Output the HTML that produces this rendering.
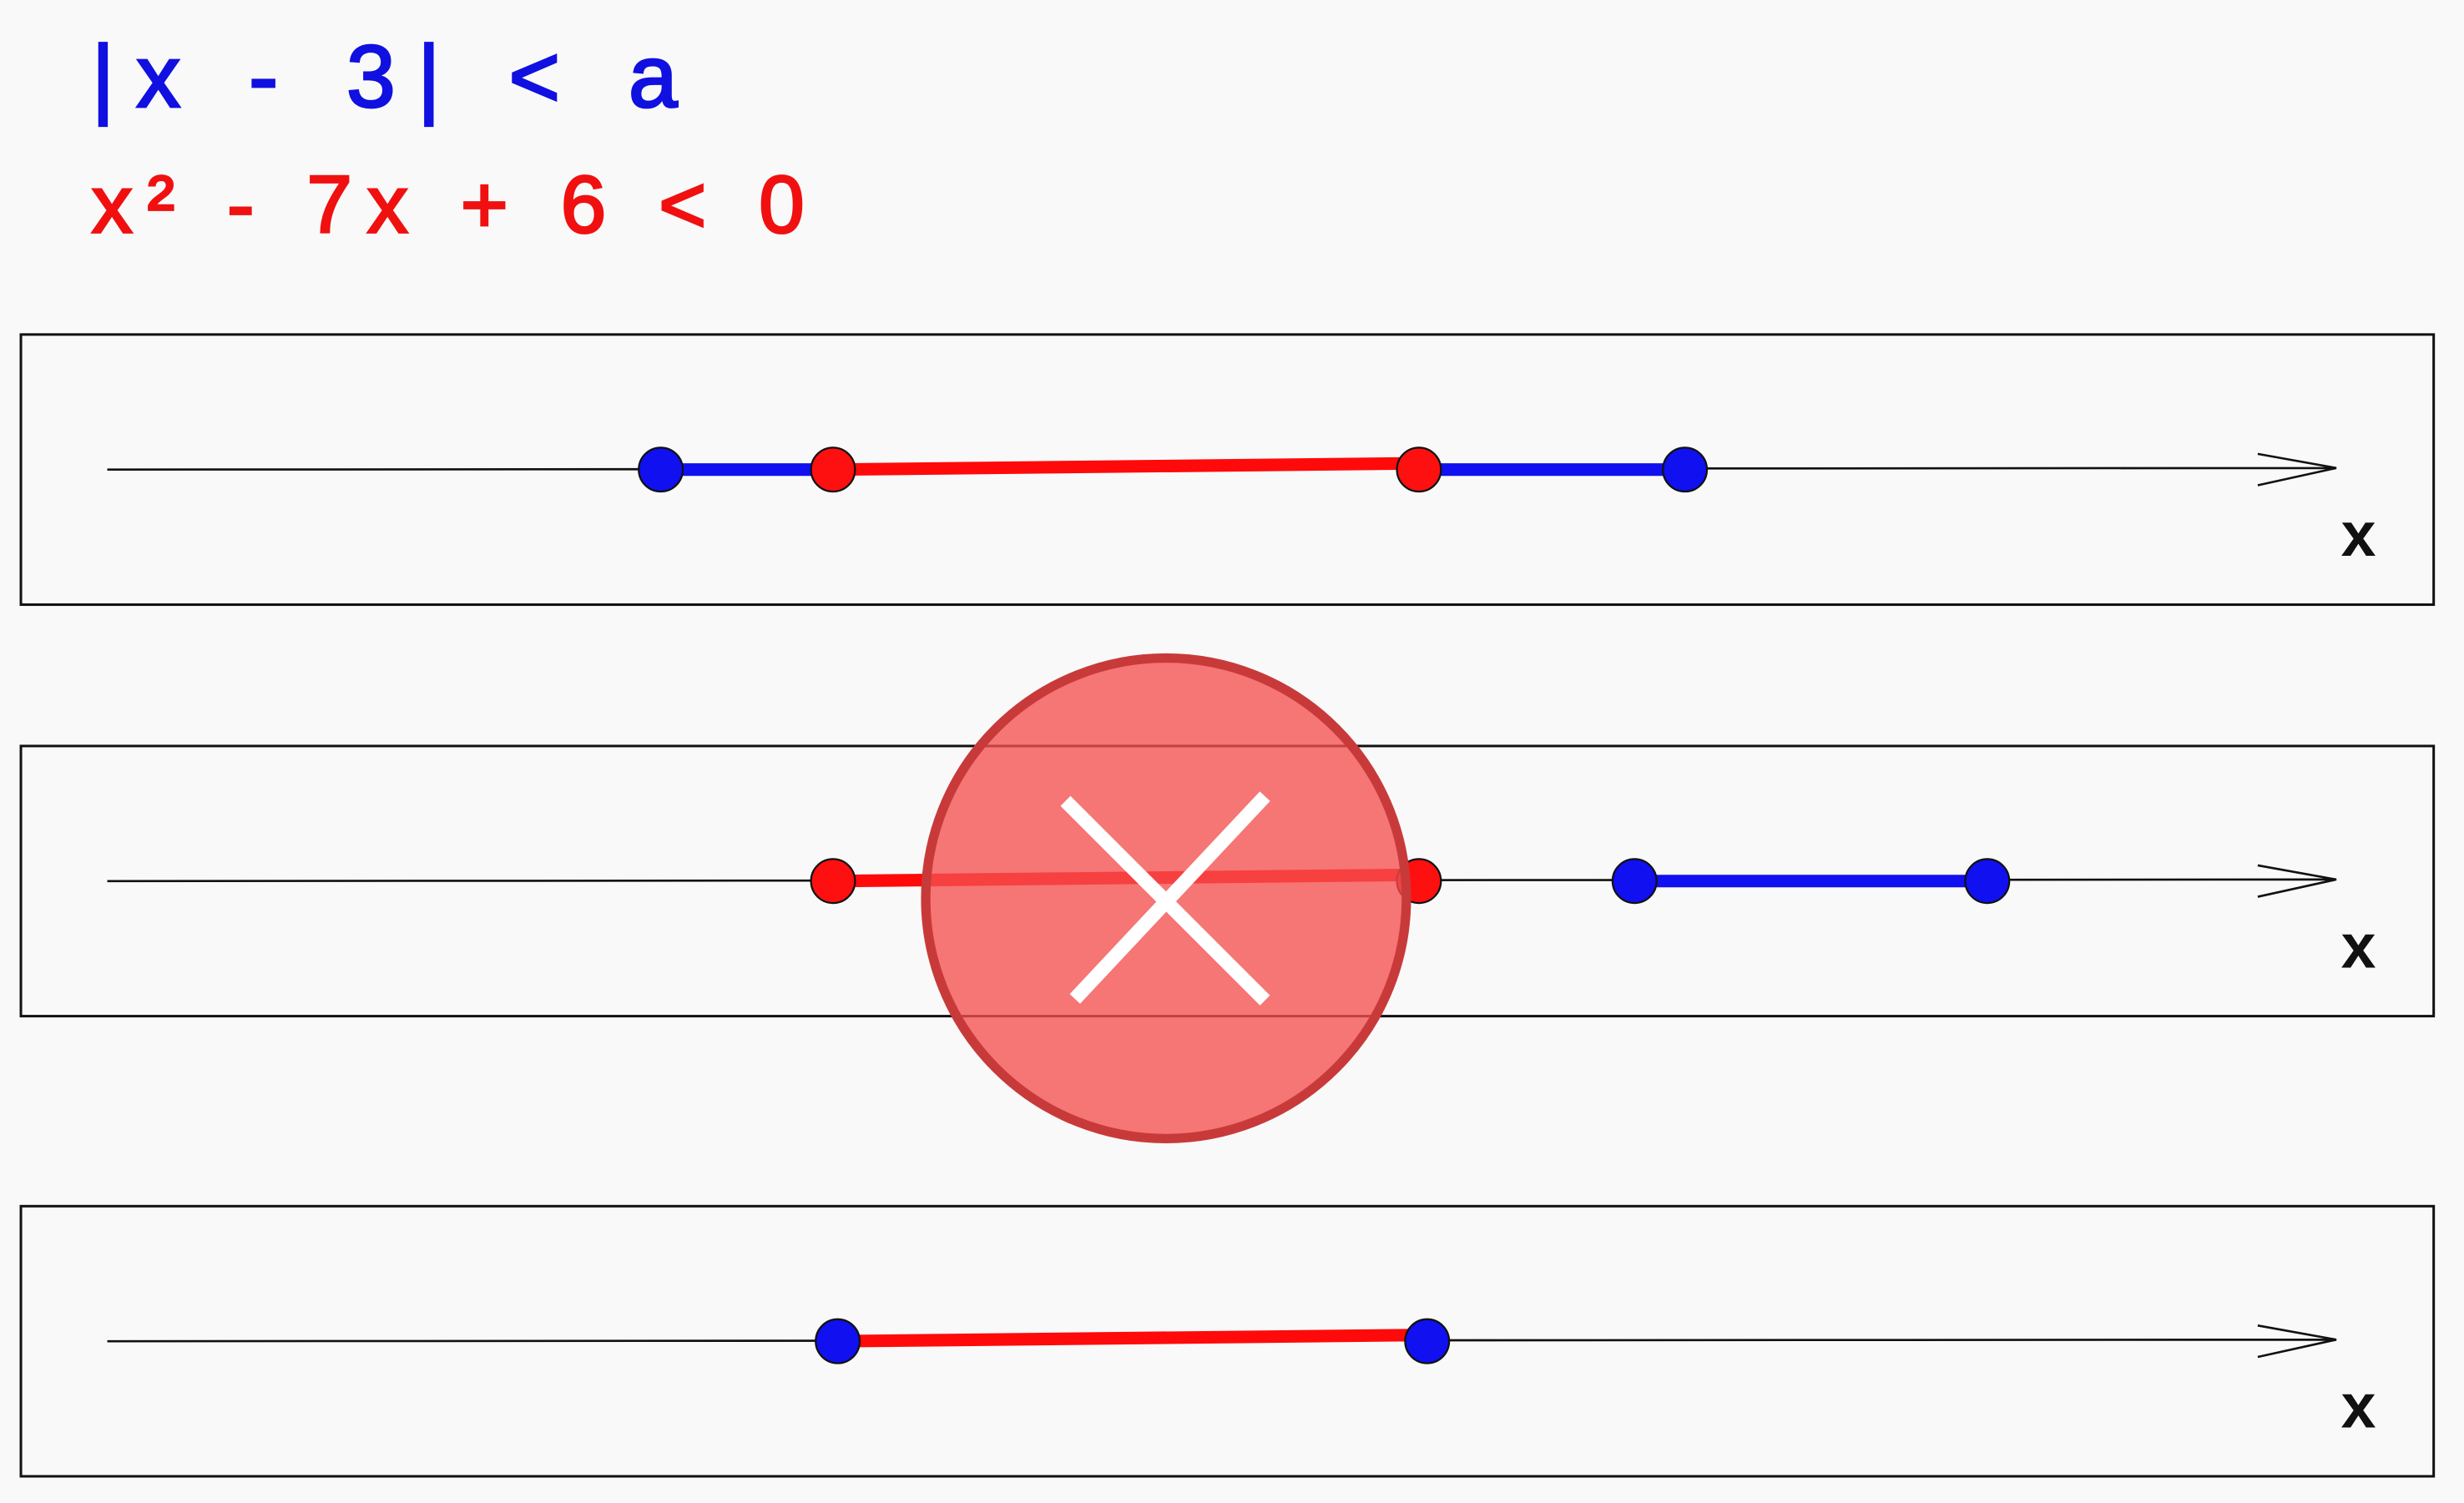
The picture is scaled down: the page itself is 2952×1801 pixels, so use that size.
<!DOCTYPE html>
<html><head><meta charset="utf-8"><style>
html,body{margin:0;padding:0;background:#f9f9f9;}
svg{display:block;}
text{font-family:"Liberation Sans",sans-serif;}
</style></head><body>
<svg width="2952" height="1801" viewBox="0 0 1568 957" xmlns="http://www.w3.org/2000/svg">
<rect width="1568" height="957" fill="#f9f9f9"/>
<text x="58" y="68" font-size="56" fill="#1010e0" stroke="#1010e0" stroke-width="1.5" letter-spacing="14">|x - 3| &lt; a</text>
<text x="58" y="148" font-size="52" fill="#f01010" stroke="#f01010" stroke-width="1.5" letter-spacing="9.5">x² - 7x + 6 &lt; 0</text>
<g id="panels"></g>
</svg>
<script>
const panelTops=[213,475,768];
const redRoots=[1,6];
const bluePanel1=[-0.47,8.27];
const bluePanel2=[7.84,10.85];
const bluePanel3=[1.04,6.07];
const showRedPoints=[true,true,false];
const redInterval=[[1,6],[1,6],[1.04,6.07]];
const blueIntervals=[[[-0.47,1],[6,8.27]],[[7.84,10.85]],[]];
const blues=[bluePanel1,bluePanel2,bluePanel3];
const ns="http://www.w3.org/2000/svg";
const xs=v=>455.4+v*74.6;
const g=document.getElementById('panels');
function mk(tag,attrs,parent){const e=document.createElementNS(ns,tag);for(const k in attrs)e.setAttribute(k,attrs[k]);(parent||g).appendChild(e);return e;}
panelTops.forEach((top,i)=>{
  const p=mk('g',{});
  
  
  const box=mk('rect',{x:13,y:top,width:1536,height:172,fill:'none',stroke:'#111','stroke-width':1.6},p);
  
  
  const ay=top+86;
  const ax=mk('path',{d:`M68 ${ay} L1487 ${ay-1} M1437 ${ay-10} L1487 ${ay-1} L1437 ${ay+10}`,fill:'none',stroke:'#111','stroke-width':1.4},p);
  
  
  const lb=mk('text',{x:1490,y:ay+55,'font-size':40,'font-weight':'bold',fill:'#111'},p);
  lb.textContent='x';
  
  
  blueIntervals[i].forEach(iv=>{
    const l=mk('line',{x1:xs(iv[0]),y1:ay,x2:xs(iv[1]),y2:ay,stroke:'#1010f0','stroke-width':8},p);
    
    
  });
  const r=redInterval[i];
  const rl=mk('line',{x1:xs(r[0]),y1:ay,x2:xs(r[1]),y2:ay-4,stroke:'#ff0a0a','stroke-width':8},p);
  
  
  if(showRedPoints[i]) redRoots.forEach(v=>{
    const c=mk('circle',{cx:xs(v),cy:ay,r:14,fill:'#ff1010',stroke:'#111','stroke-width':1.2},p);
    
    
  });
  blues[i].forEach(v=>{
    const c=mk('circle',{cx:xs(v),cy:ay,r:14,fill:'#1010f0',stroke:'#111','stroke-width':1.2},p);
    
    
  });
});
const cross=mk('g',{});


mk('circle',{cx:742,cy:572,r:153,fill:'rgba(245,80,80,0.78)',stroke:'#c83a3a','stroke-width':6},cross);
mk('path',{d:'M678 510 L805 637 M805 507 L684 636',stroke:'#fff','stroke-width':9,fill:'none'},cross);
</script>
</body></html>
